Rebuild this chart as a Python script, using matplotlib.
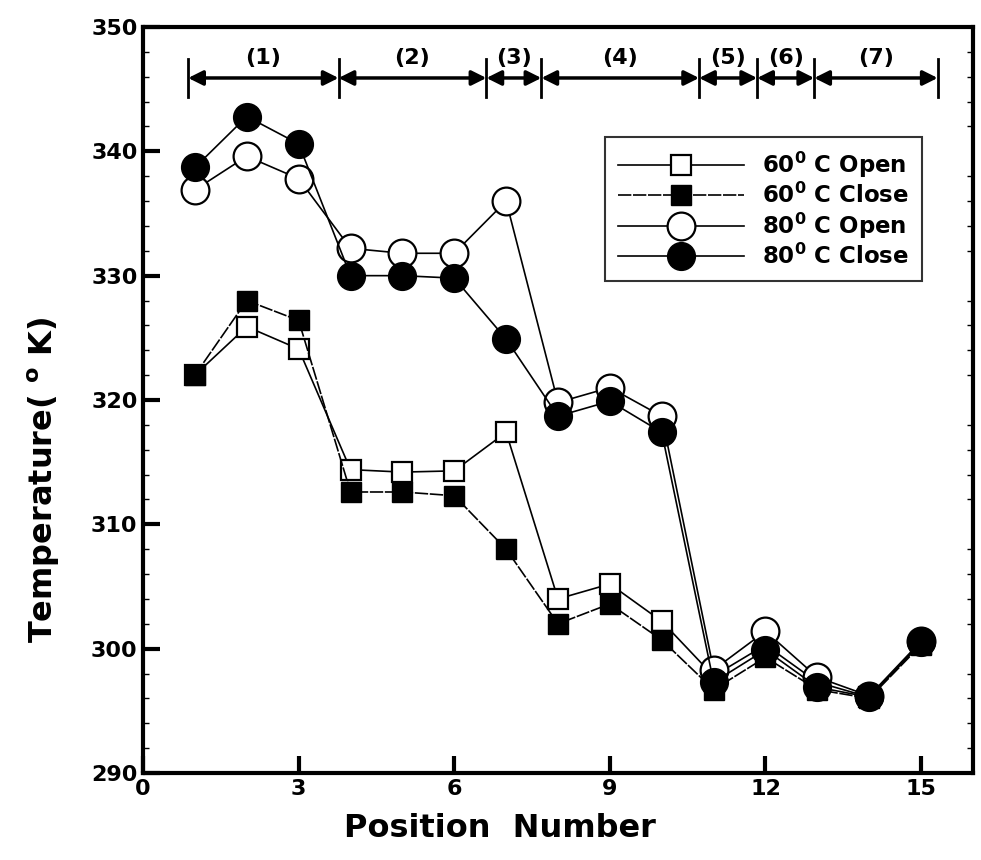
import matplotlib
matplotlib.use("Agg")
from matplotlib import pyplot as plt
from matplotlib.ticker import MultipleLocator

# 测点编号
position = [1, 2, 3, 4, 5, 6, 7, 8, 9, 10, 11, 12, 13, 14, 15]

# 各工况下的温度 (K)
t60_open = [322.0, 325.9, 324.1, 314.4, 314.2, 314.3, 317.4, 304.0, 305.2, 302.2,
            297.8, 300.3, 297.3, 296.1, 300.4]
t60_close = [322.0, 328.0, 326.4, 312.6, 312.6, 312.3, 308.0, 302.0, 303.6, 300.7,
             296.7, 299.3, 296.7, 296.0, 300.3]
t80_open = [336.9, 339.6, 337.8, 332.2, 331.8, 331.8, 336.0, 319.8, 321.0, 318.7,
            298.3, 301.4, 297.7, 296.2, 300.6]
t80_close = [338.7, 342.8, 340.6, 330.0, 330.0, 329.8, 324.9, 318.7, 319.9, 317.4,
             297.3, 299.9, 296.9, 296.1, 300.5]

# 分区边界与区号
zone_bounds = [0.87, 3.77, 6.62, 7.68, 10.72, 11.84, 12.94, 15.32]
zone_names = ["(1)", "(2)", "(3)", "(4)", "(5)", "(6)", "(7)"]
zone_y = 345.9

plt.rcParams["font.family"] = "DejaVu Sans"
plt.rcParams["font.weight"] = "bold"
plt.rcParams["mathtext.default"] = "bf"

fig = plt.figure(figsize=(9.81, 8.6), dpi=100)
ax = fig.add_axes([0.1458, 0.1012, 0.846, 0.8674])

ax.plot(position, t60_open, c="black", lw=1.2, marker="s", ms=14,
        mfc="white", mec="black", mew=1.6, label=r"60$^0$ C Open")
ax.plot(position, t60_close, c="black", lw=1.2, ls=(0, (8, 1)), marker="s", ms=14,
        mfc="black", mec="black", label=r"60$^0$ C Close")
ax.plot(position, t80_open, c="black", lw=1.2, marker="o", ms=20,
        mfc="white", mec="black", mew=1.6, label=r"80$^0$ C Open")
ax.plot(position, t80_close, c="black", lw=1.2, marker="o", ms=20,
        mfc="black", mec="black", label=r"80$^0$ C Close")

# 顶部分区双向箭头
for i in range(len(zone_names)):
    x0, x1 = zone_bounds[i], zone_bounds[i + 1]
    ax.annotate("", xy=(x0, zone_y), xytext=(x1, zone_y),
                arrowprops=dict(arrowstyle="<|-|>", color="black", lw=2.5,
                                mutation_scale=22, shrinkA=0, shrinkB=0))
    ax.text((x0 + x1) / 2, zone_y + 0.8, zone_names[i], ha="center", va="bottom",
            fontsize=16, fontweight="bold")
for xb in zone_bounds:
    ax.plot([xb, xb], [zone_y - 1.5, zone_y + 1.5], c="black", lw=2)

ax.set_xlim(0, 16)
ax.set_ylim(290, 350)
ax.xaxis.set_major_locator(MultipleLocator(3))
ax.yaxis.set_major_locator(MultipleLocator(10))
ax.yaxis.set_minor_locator(MultipleLocator(2))
ax.tick_params(which="major", direction="in", length=12, width=3,
               labelsize=16, pad=4)
ax.tick_params(which="minor", direction="in", length=4, width=1,
               right=True, left=True)
for s in ax.spines.values():
    s.set_linewidth(3)

ax.set_xlabel("Position  Number", fontsize=23, fontweight="bold")
ax.xaxis.set_label_coords(0.43, -0.054)
ax.set_ylabel(r"Temperature( $^o$ K)", fontsize=23, fontweight="bold")
ax.yaxis.set_label_coords(-0.098, 0.393)

leg = ax.legend(loc="upper right", bbox_to_anchor=(0.952, 0.868), frameon=True,
                fancybox=False, edgecolor="black",
                handlelength=5.5, labelspacing=0.12, borderpad=0.55,
                handletextpad=0.8, prop={"weight": "bold", "size": 16.5})
leg.get_frame().set_linewidth(1.5)

plt.savefig("out.png", dpi=100)
